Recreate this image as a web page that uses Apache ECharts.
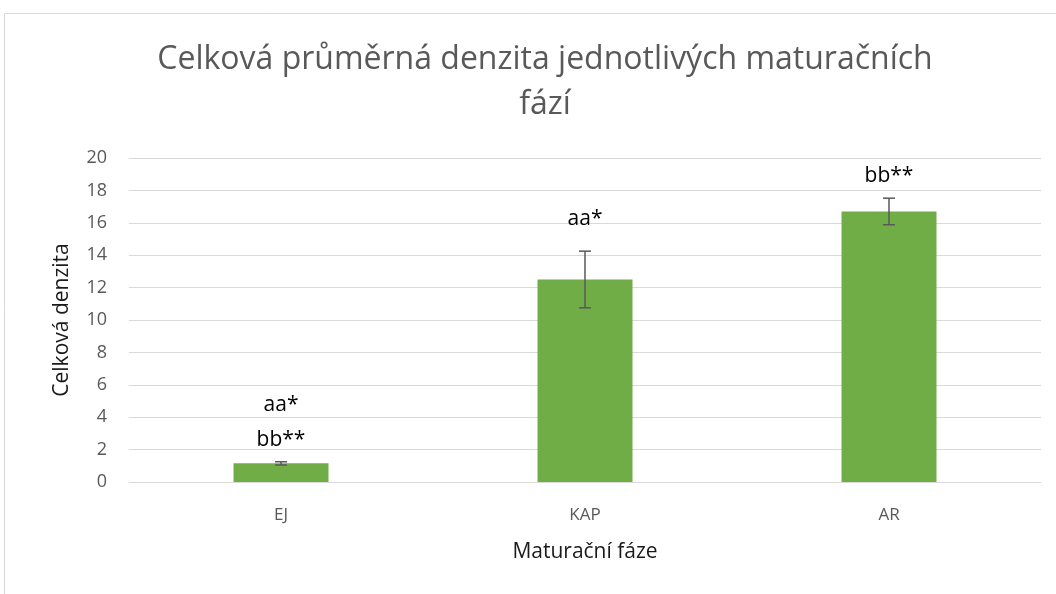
<!DOCTYPE html>
<html>
<head>
<meta charset="utf-8">
<script src="https://cdn.jsdelivr.net/npm/echarts@6/dist/echarts.min.js"></script>
<style>
  html, body { margin: 0; padding: 0; background: #fff; }
  #chart { width: 1056px; height: 594px; }
</style>
</head>
<body>
<div id="chart"></div>
<script>
// data
const categories = ['EJ', 'KAP', 'AR']
const means = [1.15, 12.5, 16.7]
const errors = [0.1, 1.75, 0.82]
const marks = [['aa*', 'bb**'], ['aa*'], ['bb**']]

const chart = echarts.init(document.getElementById('chart'))

const font = '"Open Sans", "Noto Sans", sans-serif'

// error bars + significance labels drawn with a custom series
const renderErr = (params, api) => {
  const i = api.value(0)
  const lo = api.coord([i, api.value(1)])
  const hi = api.coord([i, api.value(2)])
  const half = 6
  const style = { stroke: '#595959', lineWidth: 1.5 }
  const kids = [
    { type: 'line', shape: { x1: lo[0], y1: lo[1], x2: hi[0], y2: hi[1] }, style },
    { type: 'line', shape: { x1: lo[0] - half, y1: lo[1], x2: lo[0] + half, y2: lo[1] }, style },
    { type: 'line', shape: { x1: hi[0] - half, y1: hi[1], x2: hi[0] + half, y2: hi[1] }, style }
  ]
  // excel left a bit more room above the tall error bar
  const gap = (api.value(2) - api.value(1)) > 3 ? 32 : 22
  marks[i].slice().reverse().forEach((t, k) => {
    kids.push({
      type: 'text',
      style: {
        x: hi[0], y: hi[1] - gap - k * 35,
        text: t, fill: '#000', font: '21px ' + font,
        align: 'center', verticalAlign: 'middle'
      }
    })
  })
  return { type: 'group', children: kids }
}

const option = {
  animation: false,
  textStyle: { fontFamily: font },
  title: {
    text: 'Celková průměrná denzita jednotlivých maturačních\nfází',
    left: 540,
    top: 32,
    textAlign: 'center',
    textStyle: { fontSize: 32, fontWeight: 'normal', color: '#595959', lineHeight: 45, fontFamily: font }
  },
  graphic: [{
    type: 'rect',
    shape: { x: 4.5, y: 13.5, width: 1200, height: 800 },
    style: { fill: 'none', stroke: '#d9d9d9', lineWidth: 1 },
    silent: true
  }],
  grid: { left: 129, right: 15, top: 158, bottom: 112 },
  xAxis: {
    type: 'category',
    data: categories,
    name: 'Maturační fáze',
    nameLocation: 'middle',
    nameGap: 60,
    nameTextStyle: { fontSize: 21, color: '#1a1a1a' },
    axisLine: { show: true, lineStyle: { color: '#d9d9d9', width: 1 } },
    axisTick: { show: false },
    axisLabel: { fontSize: 17, color: '#595959', margin: 25 }
  },
  yAxis: {
    type: 'value',
    min: 0,
    max: 20,
    interval: 2,
    name: 'Celková denzita',
    nameLocation: 'middle',
    nameGap: 56,
    nameTextStyle: { fontSize: 21, color: '#1a1a1a' },
    axisLine: { show: false },
    axisTick: { show: false },
    axisLabel: { fontSize: 18, color: '#595959', margin: 22 },
    splitLine: { lineStyle: { color: '#d9d9d9', width: 1 } }
  },
  series: [
    {
      type: 'bar',
      data: means,
      barWidth: 95,
      itemStyle: { color: '#70AD47' }
    },
    {
      type: 'custom',
      renderItem: renderErr,
      data: means.map((m, i) => [i, m - errors[i], m + errors[i]]),
      z: 5
    }
  ]
}

chart.setOption(option)
</script>
</body>
</html>
